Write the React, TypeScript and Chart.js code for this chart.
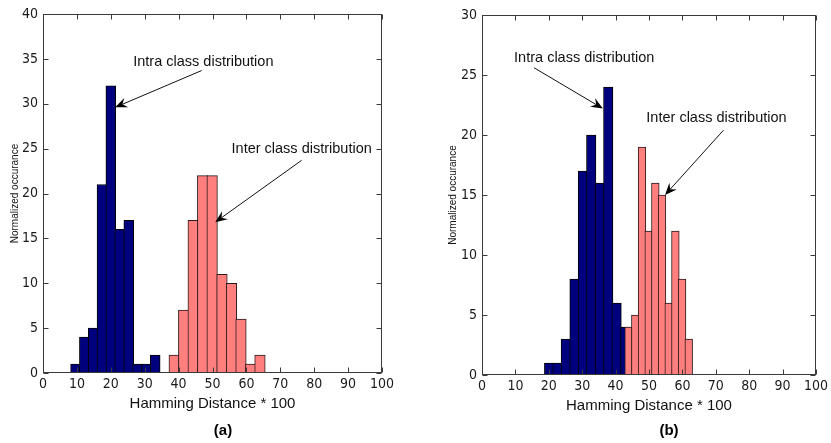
import React, { useEffect, useRef } from 'react';
import { Chart, registerables } from 'chart.js';

Chart.register(...registerables);

// ---------- Data: panel (a) ----------
const intraCentersA = [9.6, 12.2, 14.8, 17.4, 20.0, 22.6, 25.3, 27.9, 30.5, 33.1];
const intraCountsA = [1, 4, 5, 21, 32, 16, 17, 1, 1, 2];
const intraBinWidthA = 2.61;
const interCentersA = [38.7, 41.5, 44.3, 47.1, 49.9, 52.8, 55.6, 58.4, 61.2, 64.0];
const interCountsA = [2, 7, 17, 22, 22, 11, 10, 6, 1, 2];
const interBinWidthA = 2.81;

// ---------- Data: panel (b) ----------
const intraCentersB = [20.1, 22.6, 25.1, 27.7, 30.2, 32.7, 35.3, 37.8, 40.3, 42.9];
const intraCountsB = [1, 1, 3, 8, 17, 20, 16, 24, 6, 4];
const intraBinWidthB = 2.53;
const interCentersB = [43.9, 45.9, 47.9, 49.9, 51.9, 53.9, 55.9, 57.9, 59.9, 61.9];
const interCountsB = [4, 5, 19, 12, 16, 15, 6, 12, 8, 3];
const interBinWidthB = 2.0;

// Axis ranges / tick steps
const xMin = 0;
const xMax = 100;
const xStep = 10;
const yMaxA = 40;
const yMaxB = 30;
const yStep = 5;

const xTitle = 'Hamming Distance * 100';
const yTitle = 'Normalized occurance';

// Annotations (data coordinates)
const annotationsA = [
  { text: 'Intra class distribution', textAt: [47.3, 34.7], from: [46.8, 33.7], to: [21.3, 29.6] },
  { text: 'Inter class distribution', textAt: [76.3, 25.0], from: [76.3, 23.7], to: [50.8, 16.8] },
];
const annotationsB = [
  { text: 'Intra class distribution', textAt: [30.6, 26.4], from: [15.6, 25.6], to: [36.2, 22.2] },
  { text: 'Inter class distribution', textAt: [70.2, 21.4], from: [72.3, 20.4], to: [54.8, 15.0] },
];

const SANS = "'Liberation Sans', Arial, Helvetica, sans-serif";
const NARROW = "'Liberation Sans Narrow', 'DejaVu Sans', 'Liberation Sans', sans-serif";

type Ann = { text: string; textAt: number[]; from: number[]; to: number[] };

interface HistProps {
  width: number;
  height: number;
  plotLeft: number;
  plotRight: number;
  plotTop: number;
  plotBottom: number;
  yMax: number;
  intraCenters: number[];
  intraCounts: number[];
  intraBinWidth: number;
  interCenters: number[];
  interCounts: number[];
  interBinWidth: number;
  annotations: Ann[];
  caption: string;
  captionX: number;
  captionY: number;
}

function Histogram(p: HistProps) {
  const ref = useRef<HTMLCanvasElement | null>(null);

  useEffect(() => {
    if (!ref.current) return;
    const xAxisHeight = 45;

    const thickness = (w: number) => (c: any) => {
      const s = c.chart.scales.x;
      if (!s) return undefined;
      return Math.abs(s.getPixelForValue(w) - s.getPixelForValue(0)) + 1;
    };

    const boxPlugin = {
      id: 'matlabBox',
      afterDatasetsDraw(chart: any) {
        const { ctx, chartArea } = chart;
        const x = chart.scales.x;
        const y = chart.scales.y;
        const l = Math.round(chartArea.left) + 0.5;
        const r = Math.round(chartArea.right) - 0.5;
        const t = Math.round(chartArea.top) + 0.5;
        const b = Math.round(chartArea.bottom) - 0.5;
        ctx.save();
        ctx.strokeStyle = '#3a3a3a';
        ctx.lineWidth = 1;
        ctx.strokeRect(l, t, r - l, b - t);
        const tl = 5;
        ctx.beginPath();
        x.ticks.forEach((tk: any) => {
          const px = Math.round(x.getPixelForValue(tk.value)) + 0.5;
          ctx.moveTo(px, b);
          ctx.lineTo(px, b - tl);
          ctx.moveTo(px, t);
          ctx.lineTo(px, t + tl);
        });
        y.ticks.forEach((tk: any) => {
          const py = Math.round(y.getPixelForValue(tk.value)) + 0.5;
          ctx.moveTo(l, py);
          ctx.lineTo(l + tl, py);
          ctx.moveTo(r, py);
          ctx.lineTo(r - tl, py);
        });
        ctx.stroke();

        // annotations
        p.annotations.forEach((a) => {
          const tx = x.getPixelForValue(a.textAt[0]);
          const ty = y.getPixelForValue(a.textAt[1]);
          ctx.fillStyle = '#111';
          ctx.font = `14.5px ${SANS}`;
          ctx.textAlign = 'center';
          ctx.textBaseline = 'middle';
          ctx.fillText(a.text, tx, ty);

          const sx = x.getPixelForValue(a.from[0]);
          const sy = y.getPixelForValue(a.from[1]);
          const ex = x.getPixelForValue(a.to[0]);
          const ey = y.getPixelForValue(a.to[1]);
          const dx = ex - sx;
          const dy = ey - sy;
          const len = Math.hypot(dx, dy);
          const ux = dx / len;
          const uy = dy / len;
          const nx = -uy;
          const ny = ux;
          const L = 12;
          const W = 5;
          const bx = ex - ux * L;
          const by = ey - uy * L;
          const kx = ex - ux * L * 0.65;
          const ky = ey - uy * L * 0.65;
          ctx.strokeStyle = '#111';
          ctx.lineWidth = 1;
          ctx.beginPath();
          ctx.moveTo(sx, sy);
          ctx.lineTo(kx, ky);
          ctx.stroke();
          ctx.fillStyle = '#000';
          ctx.beginPath();
          ctx.moveTo(ex, ey);
          ctx.lineTo(bx + nx * W, by + ny * W);
          ctx.lineTo(kx, ky);
          ctx.lineTo(bx - nx * W, by - ny * W);
          ctx.closePath();
          ctx.fill();
        });

        // caption
        ctx.fillStyle = '#000';
        ctx.font = `bold 15px ${SANS}`;
        ctx.textAlign = 'center';
        ctx.textBaseline = 'middle';
        ctx.fillText(p.caption, p.captionX, p.captionY);
        ctx.restore();
      },
    };

    const tickFont = { family: NARROW, size: 14, weight: 'condensed' };

    const chart = new Chart(ref.current, {
      type: 'bar',
      data: {
        datasets: [
          {
            label: 'Intra class distribution',
            data: p.intraCenters.map((c, i) => ({ x: c, y: p.intraCounts[i] })),
            backgroundColor: '#00007f',
            borderColor: '#000000',
            borderWidth: 1,
            borderSkipped: false,
            grouped: false,
            order: 1,
            barThickness: thickness(p.intraBinWidth) as any,
          },
          {
            label: 'Inter class distribution',
            data: p.interCenters.map((c, i) => ({ x: c, y: p.interCounts[i] })),
            backgroundColor: '#ff7f7f',
            borderColor: '#2a1a1a',
            borderWidth: 1,
            borderSkipped: false,
            grouped: false,
            order: 0,
            barThickness: thickness(p.interBinWidth) as any,
          },
        ],
      },
      options: {
        responsive: false,
        animation: false,
        events: [],
        layout: {
          padding: {
            left: 0,
            top: p.plotTop,
            right: p.width - p.plotRight,
            bottom: p.height - p.plotBottom - xAxisHeight,
          },
        },
        plugins: {
          legend: { display: false },
          tooltip: { enabled: false },
          title: { display: false },
        },
        scales: {
          x: {
            type: 'linear',
            min: xMin,
            max: xMax,
            offset: false,
            grid: { display: false, drawTicks: false, offset: false },
            border: { display: false },
            ticks: {
              stepSize: xStep,
              autoSkip: false,
              maxRotation: 0,
              padding: 3,
              color: '#1a1a1a',
              font: tickFont,
            },
            title: {
              display: true,
              text: xTitle,
              color: '#111',
              font: { family: SANS, size: 15 },
              padding: { top: 0, bottom: 5 },
            },
            afterFit: (s: any) => {
              s.height = xAxisHeight;
            },
          },
          y: {
            type: 'linear',
            min: 0,
            max: p.yMax,
            grid: { display: false, drawTicks: false },
            border: { display: false },
            ticks: {
              stepSize: yStep,
              padding: 5,
              color: '#1a1a1a',
              font: tickFont,
            },
            title: {
              display: true,
              text: yTitle,
              color: '#111',
              font: { family: SANS, size: 10 },
              padding: { top: 9, bottom: 0 },
            },
            afterFit: (s: any) => {
              s.width = p.plotLeft;
            },
          },
        },
      } as any,
      plugins: [boxPlugin],
    });
    return () => chart.destroy();
  }, []);

  return (
    <canvas
      ref={ref}
      width={p.width}
      height={p.height}
      style={{ display: 'block', width: p.width, height: p.height }}
    />
  );
}

export default function App() {
  return (
    <div
      style={{
        position: 'absolute',
        left: 0,
        top: 0,
        width: 831,
        height: 443,
        background: '#ffffff',
        overflow: 'hidden',
      }}
    >
      <div style={{ position: 'absolute', left: 0, top: 0 }}>
        <Histogram
          width={415}
          height={443}
          plotLeft={43}
          plotRight={382}
          plotTop={14}
          plotBottom={373}
          yMax={yMaxA}
          intraCenters={intraCentersA}
          intraCounts={intraCountsA}
          intraBinWidth={intraBinWidthA}
          interCenters={interCentersA}
          interCounts={interCountsA}
          interBinWidth={interBinWidthA}
          annotations={annotationsA}
          caption="(a)"
          captionX={223}
          captionY={431}
        />
      </div>
      <div style={{ position: 'absolute', left: 438, top: 0 }}>
        <Histogram
          width={393}
          height={443}
          plotLeft={44}
          plotRight={384}
          plotTop={15}
          plotBottom={375}
          yMax={yMaxB}
          intraCenters={intraCentersB}
          intraCounts={intraCountsB}
          intraBinWidth={intraBinWidthB}
          interCenters={interCentersB}
          interCounts={interCountsB}
          interBinWidth={interBinWidthB}
          annotations={annotationsB}
          caption="(b)"
          captionX={231}
          captionY={431}
        />
      </div>
    </div>
  );
}
